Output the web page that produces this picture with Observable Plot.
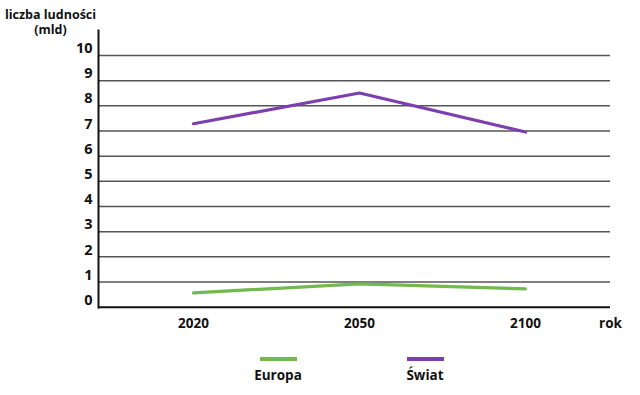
<!DOCTYPE html>
<html>
<head>
<meta charset="utf-8">
<script src="https://cdn.jsdelivr.net/npm/d3@7"></script>
<script src="https://cdn.jsdelivr.net/npm/@observablehq/plot@0.6"></script>
<style>
  html, body { margin: 0; padding: 0; background: #fff; }
  body { width: 640px; height: 395px; overflow: hidden; font-family: "Open Sans", sans-serif; }
  #legend { position: relative; width: 640px; height: 55px; }
  .item { position: absolute; top: 0; width: 80px; text-align: center; }
  .swatch { width: 37px; height: 4px; margin: 17px auto 0 auto; }
  .lab { font-weight: bold; font-size: 13.5px; color: #111; margin-top: 5px; }
</style>
</head>
<body>
<div id="chart"></div>
<div id="legend"></div>
<script>
const years = [2020, 2050, 2100];
const europa = [0.57, 0.93, 0.73];
const swiat = [7.29, 8.51, 6.96];
const yTicks = [0, 1, 2, 3, 4, 5, 6, 7, 8, 9, 10];
const gridTicks = [1, 2, 3, 4, 5, 6, 7, 8, 9, 10];
const seriesNames = ["Europa", "Świat"];
const seriesColors = ["#72b94f", "#7b3fb0"];

const table = [];
years.forEach((yr, i) => {
  table.push({year: yr, value: europa[i], series: seriesNames[0]});
  table.push({year: yr, value: swiat[i], series: seriesNames[1]});
});

const plot = Plot.plot({
  width: 640,
  height: 340,
  marginLeft: 98,
  marginRight: 30,
  marginTop: 30,
  marginBottom: 33,
  style: {fontFamily: "Open Sans", background: "#fff", overflow: "visible"},
  x: {type: "point", domain: years, range: [193, 525], padding: 0, axis: null},
  y: {domain: [0, 10], range: [306.7, 55], axis: null},
  color: {domain: seriesNames, range: seriesColors},
  marks: [
    Plot.ruleY(gridTicks, {stroke: "#555", strokeWidth: 1.5}),
    Plot.lineY(table, {x: "year", y: "value", stroke: "series", strokeWidth: 3.2}),
    Plot.ruleY([0], {stroke: "#111", strokeWidth: 2}),
    Plot.frame({anchor: "left", stroke: "#111", strokeWidth: 2}),
    Plot.axisY(yTicks, {tickSize: 0, tickPadding: 6, dy: -7, fontSize: 14.5, fontWeight: "bold", fill: "#111", label: null}),
    Plot.axisX(years, {tickSize: 0, tickPadding: 11, tickFormat: d => String(d), fontSize: 13.5, fontWeight: "bold", fill: "#111", label: null}),
    Plot.text(["rok"], {frameAnchor: "bottom-right", textAnchor: "middle", lineAnchor: "top", dy: 11, fontSize: 13.5, fontWeight: "bold", fill: "#111"}),
    Plot.text(["liczba ludności\n(mld)"], {frameAnchor: "top-left", textAnchor: "middle", lineAnchor: "top", dx: -48, dy: -23, fontSize: 12.5, fontWeight: "bold", lineHeight: 1.25, fill: "#111"})
  ]
});
document.getElementById("chart").appendChild(plot);

const legend = document.getElementById("legend");
const centers = [278, 425];
seriesNames.forEach((name, i) => {
  const item = document.createElement("div");
  item.className = "item";
  item.style.left = (centers[i] - 40) + "px";
  item.innerHTML = `<div class="swatch" style="background:${seriesColors[i]}"></div><div class="lab">${name}</div>`;
  legend.appendChild(item);
});
</script>
</body>
</html>
